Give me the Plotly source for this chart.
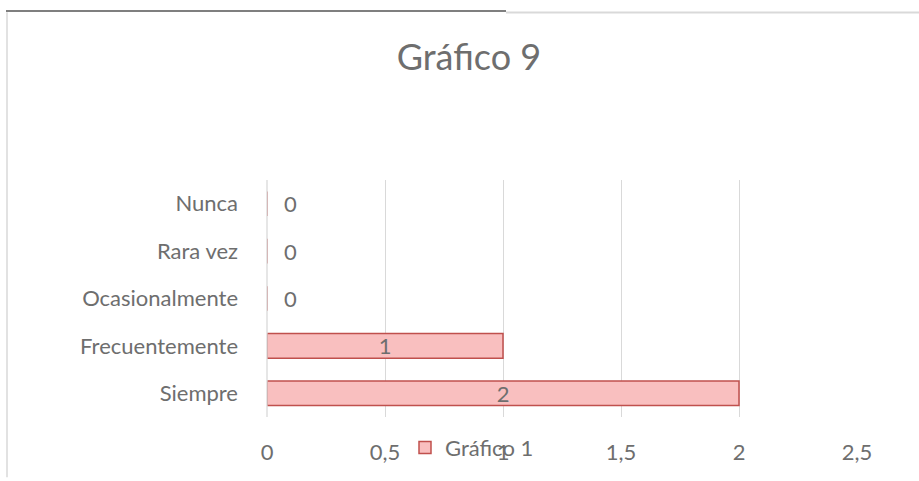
import plotly.graph_objects as go

categories = ["Siempre", "Frecuentemente", "Ocasionalmente", "Rara vez", "Nunca"]
values = [2, 1, 0, 0, 0]
x_ticks = [0, 0.5, 1, 1.5, 2, 2.5]
x_ticklabels = ["0", "0,5", "1", "1,5", "2", "2,5"]
series_name = "Gráfico 1"
title_text = "Gráfico 9"

W, H = 919, 481
L, R, T, B = 267, 62, 180, 61
pw, ph = W - L - R, H - T - B

def px(p):
    return (p - L) / pw

def py(q):
    return (H - B - q) / ph

FONT = "Lato, Carlito, 'Liberation Sans', sans-serif"
GRAY = "#6e6e6e"

fig = go.Figure()
fig.add_trace(go.Bar(
    y=categories, x=values, orientation="h", name=series_name,
    marker=dict(color="#f9bfbf", line=dict(color="#c0504d", width=1.5)),
    width=0.52,
    text=[str(v) if v > 0 else "" for v in values], textposition="inside",
    insidetextanchor="middle", textangle=0, constraintext="none",
    textfont=dict(family=FONT, size=22, color=GRAY),
    cliponaxis=False, showlegend=True,
))

annotations = []
for c, v in zip(categories, values):
    if v == 0:
        annotations.append(dict(x=v, y=c, xref="x", yref="y", text=str(v),
                                showarrow=False, xanchor="left", xshift=15,
                                font=dict(family=FONT, size=22, color=GRAY)))

fig.update_layout(
    width=W, height=H,
    margin=dict(l=L, r=R, t=T, b=B, pad=0),
    paper_bgcolor="white", plot_bgcolor="white",
    font=dict(family=FONT, color=GRAY, size=22),
    title=dict(text=title_text, x=469 / W, xref="container", xanchor="center",
               y=1 - 57 / H, yref="container", yanchor="middle",
               font=dict(family=FONT, size=36, color=GRAY)),
    xaxis=dict(range=[0, 2.5], tickvals=x_ticks, ticktext=x_ticklabels,
               showgrid=True, gridcolor="#d9d9d9", gridwidth=1.3,
               zeroline=False, showline=False, ticks="",
               tickfont=dict(family=FONT, size=22, color=GRAY),
               ticklabelstandoff=20),
    yaxis=dict(categoryorder="array", categoryarray=categories,
               showgrid=False, zeroline=False, showline=False, ticks="",
               tickfont=dict(family=FONT, size=22, color=GRAY),
               ticklabelstandoff=28),
    legend=dict(orientation="h", x=px(405), xanchor="left",
                y=py(451), yanchor="middle", bgcolor="rgba(0,0,0,0)",
                font=dict(family=FONT, size=22, color=GRAY),
                itemwidth=30),
    annotations=annotations,
    shapes=[
        dict(type="line", xref="paper", yref="paper", x0=px(6), x1=px(506), y0=py(8.8), y1=py(8.8),
             line=dict(color="#7f7f7f", width=2)),
        dict(type="line", xref="paper", yref="paper", x0=px(506), x1=px(919), y0=py(10.5), y1=py(10.5),
             line=dict(color="#d9d9d9", width=2)),
        dict(type="line", xref="paper", yref="paper", x0=px(7), x1=px(7), y0=py(10), y1=py(481),
             line=dict(color="#d9d9d9", width=1.5)),
        dict(type="line", xref="paper", yref="paper", x0=0, x1=0, y0=0, y1=1,
             line=dict(color="#d9d9d9", width=1.3)),
    ],
)

fig.write_html("out.html", config={"displayModeBar": False},
               post_script="document.body.style.margin='0px';")
